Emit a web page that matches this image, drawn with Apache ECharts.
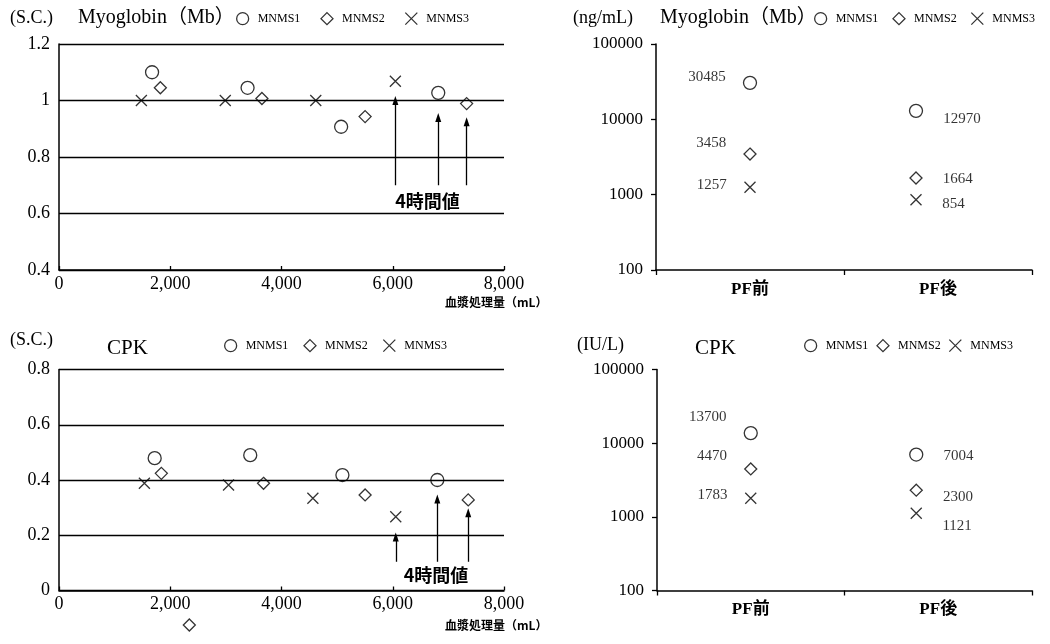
<!DOCTYPE html>
<html>
<head>
<meta charset="utf-8">
<script src="https://cdn.jsdelivr.net/npm/echarts@6/dist/echarts.min.js"></script>
<style>
html,body{margin:0;padding:0;background:#fff}
#c{width:1050px;height:644px}
</style>
</head>
<body>
<div id="c"></div>
<script>
// ---- data ----
const seriesNames = ['MNMS1', 'MNMS2', 'MNMS3'];

// Myoglobin sieving coefficient vs plasma processed volume (mL)
const mbSC_MNMS1 = [[1673, 1.10], [3390, 1.045], [5072, 0.907], [6818, 1.027]];
const mbSC_MNMS2 = [[1822, 1.045], [3648, 1.007], [5503, 0.943], [7328, 0.989]];
const mbSC_MNMS3 = [[1481, 1.0], [2989, 1.0], [4616, 1.0], [6047, 1.068]];

// CPK sieving coefficient vs plasma processed volume (mL)
const cpkSC_MNMS1 = [[1720, 0.479], [3438, 0.49], [5095, 0.418], [6801, 0.40]];
const cpkSC_MNMS2 = [[1840, 0.424], [2343, -0.125], [3677, 0.388], [5503, 0.346], [7357, 0.328]];
const cpkSC_MNMS3 = [[1535, 0.388], [3048, 0.382], [4564, 0.334], [6054, 0.267]];

// Serum concentrations before / after PF
const pfCategories = ['PF前', 'PF後'];
const mbConc_MNMS1 = [30485, 12970];
const mbConc_MNMS2 = [3458, 1664];
const mbConc_MNMS3 = [1257, 854];
const cpkConc_MNMS1 = [13700, 7004];
const cpkConc_MNMS2 = [4470, 2300];
const cpkConc_MNMS3 = [1783, 1121];

// 4-hour value pointers: [volume, from, to]
const mbArrows = [[6047, 0.70, 1.0], [6818, 0.70, 0.94], [7328, 0.70, 0.925]];
const cpkArrows = [[6054, 0.104, 0.194], [6801, 0.104, 0.331], [7357, 0.104, 0.281]];
const noteText = '4時間値';
const mbNoteAt = [6625, 0.643];
const cpkNoteAt = [6777, 0.056];

const scTicks = { mb: [0.4, 1.2, 0.2], cpk: [0, 0.8, 0.2] };
const volTicks = [0, 8000, 2000];
const concRange = [100, 100000];

// ---- styling ----
const serif = "'Liberation Serif','Times New Roman','Noto Sans CJK JP',serif";
const gothic = "'Noto Sans CJK JP','Noto Sans',sans-serif";
const ink = '#000';
const symbols = { MNMS1: 'circle', MNMS2: 'diamond', MNMS3: 'path://M0,0L1,1M1,0L0,1' };
const symbolSizes = { MNMS1: 13, MNMS2: 12, MNMS3: 11 };
const markStyle = { color: 'rgba(0,0,0,0)', borderColor: ink, borderWidth: 1.3 };

// vertical label shift per series, [PF前, PF後]
const mbLabelShift = [[-6, 8], [-11, 1], [-2, 4]];
const cpkLabelShift = [[-16, 2], [-13, 7], [-3, 13]];
const pfAfterNudge = -22;

const commas = v => String(v).replace(/\B(?=(\d{3})+(?!\d))/g, ',');

function scSeries(g, name, data) {
  return {
    type: 'scatter', name, xAxisIndex: g, yAxisIndex: g, data,
    symbol: symbols[name], symbolSize: symbolSizes[name],
    itemStyle: markStyle, clip: false, silent: true
  };
}

function concSeries(g, name, values, shifts) {
  return {
    type: 'scatter', name, xAxisIndex: g, yAxisIndex: g,
    symbol: symbols[name], symbolSize: symbolSizes[name],
    itemStyle: markStyle, clip: false, silent: true,
    data: values.map((v, i) => ({
      value: [pfCategories[i], v],
      symbolOffset: i === 1 ? [pfAfterNudge, 0] : [0, 0],
      label: {
        show: true,
        position: i === 0 ? 'left' : 'right',
        distance: i === 0 ? 17 : 20,
        offset: [0, shifts[i]],
        formatter: p => String(p.value[1]),
        fontFamily: serif, fontSize: 15, color: ink
      }
    }))
  };
}

function noteSeries(g, arrows, at) {
  return {
    type: 'scatter', xAxisIndex: g, yAxisIndex: g, data: [], silent: true,
    markLine: {
      silent: true, animation: false,
      symbol: ['none', 'triangle'], symbolSize: 9,
      label: { show: false },
      lineStyle: { color: ink, width: 1.3, type: 'solid' },
      emphasis: { disabled: true },
      data: arrows.map(a => [
        { coord: [a[0], a[1]], symbol: 'none' },
        { coord: [a[0], a[2]], symbol: 'triangle', symbolSize: [6, 9] }
      ])
    },
    markPoint: {
      silent: true, animation: false,
      symbol: 'circle', symbolSize: 1,
      itemStyle: { color: 'rgba(0,0,0,0)' },
      label: {
        show: true, position: 'inside', formatter: noteText,
        fontFamily: gothic, fontWeight: 'bold', fontSize: 18, color: ink
      },
      data: [{ coord: at }]
    }
  };
}

function volAxis(g) {
  return {
    gridIndex: g, type: 'value', min: volTicks[0], max: volTicks[1], interval: volTicks[2],
    axisLine: { show: true, onZero: false, lineStyle: { color: ink, width: 1.5 } },
    axisTick: { show: true, inside: true, length: 4, lineStyle: { color: ink, width: 1.3 } },
    splitLine: { show: false },
    axisLabel: { formatter: commas, fontFamily: serif, fontSize: 18, color: ink, margin: 5 }
  };
}

function scAxis(g, t) {
  return {
    gridIndex: g, type: 'value', min: t[0], max: t[1], interval: t[2],
    axisLine: { show: true, lineStyle: { color: ink, width: 1.5 } },
    axisTick: { show: false },
    splitLine: { show: true, lineStyle: { color: ink, width: 1.4 } },
    axisLabel: { fontFamily: serif, fontSize: 18, color: ink, margin: 9 }
  };
}

function pfAxis(g) {
  return {
    gridIndex: g, type: 'category', data: pfCategories, boundaryGap: true,
    axisLine: { show: true, onZero: false, lineStyle: { color: ink, width: 1.5 } },
    axisTick: { show: true, length: 5, lineStyle: { color: ink, width: 1.3 } },
    splitLine: { show: false },
    axisLabel: { fontFamily: serif, fontWeight: 'bold', fontSize: 17, color: ink, margin: 11 }
  };
}

function concAxis(g) {
  return {
    gridIndex: g, type: 'log', logBase: 10, min: concRange[0], max: concRange[1],
    axisLine: { show: true, lineStyle: { color: ink, width: 1.5 } },
    axisTick: { show: true, length: 5, lineStyle: { color: ink, width: 1.3 } },
    minorTick: { show: false },
    splitLine: { show: false },
    axisLabel: { formatter: v => String(Math.round(v)), fontFamily: serif, fontSize: 17, color: ink, margin: 13 }
  };
}

function legendAt(left, top, gap) {
  return {
    left, top, padding: 0, itemGap: gap, itemWidth: 12, itemHeight: 12,
    data: seriesNames, selectedMode: false,
    itemStyle: { color: 'rgba(0,0,0,0)', borderColor: ink, borderWidth: 1.3 },
    textStyle: { fontFamily: serif, fontSize: 12, color: ink, padding: [0, 0, 0, 4] }
  };
}

function label(text, x, y, size, family, weight) {
  return {
    type: 'text', x, y, silent: true,
    style: {
      text, fill: ink, verticalAlign: 'middle', align: 'left',
      font: `${weight || 'normal'} ${size}px ${family}`
    }
  };
}

const grid = { outerBoundsMode: 'none', containLabel: false };

const option = {
  animation: false,
  backgroundColor: '#fff',
  grid: [
    Object.assign({ left: 59, top: 44, width: 445, height: 226 }, grid),
    Object.assign({ left: 656, top: 44, width: 376, height: 226 }, grid),
    Object.assign({ left: 59, top: 369.5, width: 445, height: 221 }, grid),
    Object.assign({ left: 657, top: 369.5, width: 375, height: 221 }, grid)
  ],
  xAxis: [volAxis(0), pfAxis(1), volAxis(2), pfAxis(3)],
  yAxis: [scAxis(0, scTicks.mb), concAxis(1), scAxis(2, scTicks.cpk), concAxis(3)],
  legend: [
    legendAt(236, 12, 20),
    legendAt(814, 12, 14),
    legendAt(224, 339, 15),
    legendAt(804, 339, 8)
  ],
  graphic: [
    label('(S.C.)', 10, 18, 18, serif),
    label('Myoglobin（Mb）', 78, 18, 20, serif),
    label('(ng/mL)', 573, 18, 18, serif),
    label('Myoglobin（Mb）', 660, 18, 20, serif),
    label('(S.C.)', 10, 340, 18, serif),
    label('CPK', 107, 348, 21, serif),
    label('(IU/L)', 577, 345, 18, serif),
    label('CPK', 695, 348, 21, serif),
    label('血漿処理量（mL）', 445, 302, 12, gothic, 'bold'),
    label('血漿処理量（mL）', 445, 625, 12, gothic, 'bold')
  ],
  series: [
    scSeries(0, 'MNMS1', mbSC_MNMS1),
    scSeries(0, 'MNMS2', mbSC_MNMS2),
    scSeries(0, 'MNMS3', mbSC_MNMS3),
    noteSeries(0, mbArrows, mbNoteAt),
    concSeries(1, 'MNMS1', mbConc_MNMS1, mbLabelShift[0]),
    concSeries(1, 'MNMS2', mbConc_MNMS2, mbLabelShift[1]),
    concSeries(1, 'MNMS3', mbConc_MNMS3, mbLabelShift[2]),
    scSeries(2, 'MNMS1', cpkSC_MNMS1),
    scSeries(2, 'MNMS2', cpkSC_MNMS2),
    scSeries(2, 'MNMS3', cpkSC_MNMS3),
    noteSeries(2, cpkArrows, cpkNoteAt),
    concSeries(3, 'MNMS1', cpkConc_MNMS1, cpkLabelShift[0]),
    concSeries(3, 'MNMS2', cpkConc_MNMS2, cpkLabelShift[1]),
    concSeries(3, 'MNMS3', cpkConc_MNMS3, cpkLabelShift[2])
  ]
};

const chart = echarts.init(document.getElementById('c'), null, { renderer: 'canvas' });
chart.setOption(option);
</script>
</body>
</html>
